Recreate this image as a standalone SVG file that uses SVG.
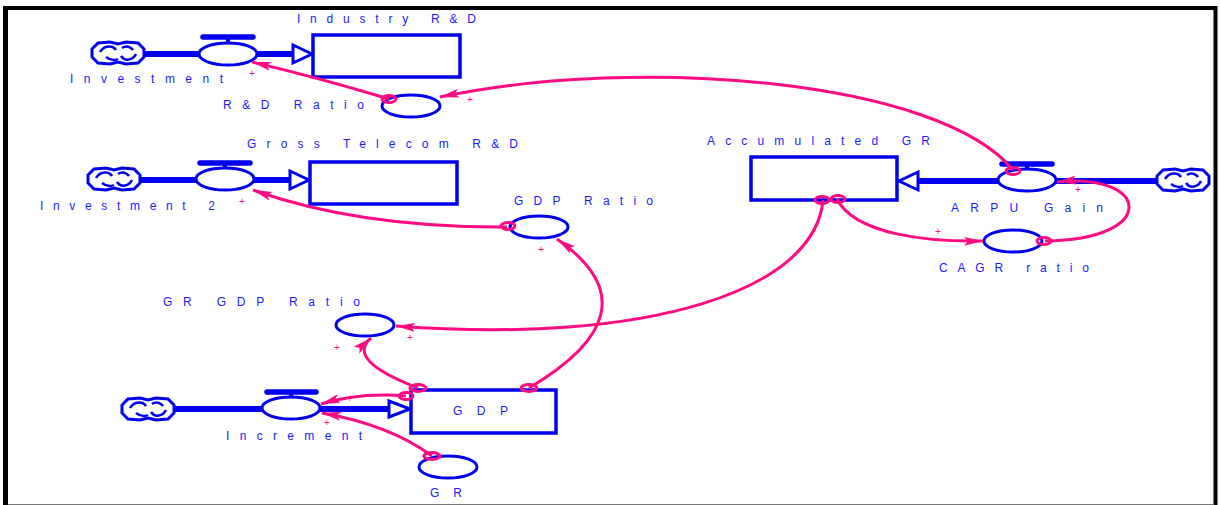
<svg xmlns="http://www.w3.org/2000/svg" xmlns:xlink="http://www.w3.org/1999/xlink" width="1220" height="505" viewBox="0 0 1220 505">
<style>
.lbl{font-family:"Liberation Sans",Arial,sans-serif;font-size:12px;fill:#1a1aff}
.plus{font-family:"Liberation Sans",Arial,sans-serif;font-size:10px;fill:#ff1080;text-anchor:middle}
.stock{fill:#fff;stroke:#0000ee;stroke-width:3.5}
.aux{fill:#fff;stroke:#0000ee;stroke-width:3}
.pipe{stroke:#0000ee;stroke-width:6;fill:none}
.bar{stroke:#0000ee;stroke-width:5.5;stroke-linecap:round}
.stem{stroke:#0000ee;stroke-width:4}
.tri{fill:#fff;stroke:#0000ee;stroke-width:3;stroke-linejoin:miter}
.link{fill:none;stroke:#ff0a80;stroke-width:3;marker-end:url(#ah)}
.src{fill:none;stroke:#ff0a80;stroke-width:3}
</style>
<defs>
<marker id="ah" markerUnits="userSpaceOnUse" markerWidth="22" markerHeight="12" refX="19" refY="6" orient="auto">
<path d="M0,1.5 L19,6 L0,10.5 L4,6 Z" fill="#ff0a80"/>
</marker>
<g id="cloud">
<path d="M-20,-10 L-8,-11 L0,-9 L8,-11 L20,-10 L26,-4 L26,4 L20,10 L8,11 L0,9 L-8,11 L-20,10 L-26,4 L-26,-4 Z" fill="#fff" stroke="#0000ee" stroke-width="3"/>
<path d="M-18,-1 C-14,-8 -5,-8 -2,-3 M3,3 C7,9 15,7 18,1 M-12,4 C-7,8 -2,7 0,6 M4,-5 C8,-8 13,-6 15,-3" fill="none" stroke="#0000ee" stroke-width="2.5"/>
</g>
</defs>
<rect x="0" y="0" width="1220" height="505" fill="#fff"/>
<g id="frame">
<line x1="3" y1="8" x2="1217" y2="8" stroke="#000" stroke-width="4"/>
<line x1="5.5" y1="6" x2="5.5" y2="505" stroke="#000" stroke-width="5"/>
<line x1="1215.5" y1="6" x2="1215.5" y2="505" stroke="#000" stroke-width="4"/>
<line x1="8" y1="504.5" x2="1214" y2="504.5" stroke="#777" stroke-width="1"/>
</g>

<g id="flow-investment">
<line class="pipe" x1="144" y1="54" x2="294" y2="54"/>
<use xlink:href="#cloud" x="118" y="53"/>
<line class="stem" x1="228" y1="38" x2="228" y2="44"/>
<line class="bar" x1="203" y1="37" x2="253" y2="37"/>
<ellipse class="aux" cx="228" cy="54" rx="29" ry="11"/>
<polygon class="tri" points="293,45 312,54 293,63"/>
<text class="lbl" x="70" y="83" textLength="153" lengthAdjust="spacing">Investment</text>
</g>
<g id="stock-industry-rd">
<rect class="stock" x="313" y="35" width="147" height="42"/>
<text class="lbl" x="297" y="23" textLength="179" lengthAdjust="spacing">Industry R&amp;D</text>
</g>
<g id="aux-rd-ratio">
<ellipse class="aux" cx="411" cy="106" rx="29" ry="11"/>
<text class="lbl" x="223" y="109" textLength="141" lengthAdjust="spacing">R&amp;D Ratio</text>
</g>

<g id="flow-investment2">
<line class="pipe" x1="140" y1="180" x2="291" y2="180"/>
<use xlink:href="#cloud" x="114" y="179"/>
<line class="stem" x1="225" y1="163" x2="225" y2="169"/>
<line class="bar" x1="200" y1="163" x2="250" y2="163"/>
<ellipse class="aux" cx="225" cy="179" rx="29" ry="11"/>
<polygon class="tri" points="290,171 309,180 290,189"/>
<text class="lbl" x="40" y="210" textLength="175" lengthAdjust="spacing">Investment 2</text>
</g>
<g id="stock-gross-telecom-rd">
<rect class="stock" x="310" y="162" width="147" height="42"/>
<text class="lbl" x="247" y="148" textLength="271" lengthAdjust="spacing">Gross Telecom R&amp;D</text>
</g>
<g id="aux-gdp-ratio">
<ellipse class="aux" cx="539" cy="227" rx="29" ry="11"/>
<text class="lbl" x="514" y="205" textLength="139" lengthAdjust="spacing">GDP Ratio</text>
</g>

<g id="stock-accumulated-gr">
<rect class="stock" x="751" y="157" width="146" height="43"/>
<text class="lbl" x="707" y="145" textLength="223" lengthAdjust="spacing">Accumulated GR</text>
</g>
<g id="flow-arpu-gain">
<line class="pipe" x1="916" y1="181" x2="1158" y2="181"/>
<use xlink:href="#cloud" x="1183" y="180"/>
<line class="stem" x1="1027" y1="164" x2="1027" y2="170"/>
<line class="bar" x1="1002" y1="164" x2="1052" y2="164"/>
<ellipse class="aux" cx="1027" cy="180" rx="29" ry="11"/>
<polygon class="tri" points="918,172 899,181 918,190"/>
<text class="lbl" x="951" y="212" textLength="152" lengthAdjust="spacing">ARPU Gain</text>
</g>
<g id="aux-cagr-ratio">
<ellipse class="aux" cx="1013" cy="241" rx="29" ry="11"/>
<text class="lbl" x="939" y="272" textLength="150" lengthAdjust="spacing">CAGR ratio</text>
</g>

<g id="aux-gr-gdp-ratio">
<ellipse class="aux" cx="365" cy="325" rx="29" ry="11"/>
<text class="lbl" x="163" y="306" textLength="197" lengthAdjust="spacing">GR GDP Ratio</text>
</g>
<g id="flow-increment">
<line class="pipe" x1="175" y1="409" x2="390" y2="409"/>
<use xlink:href="#cloud" x="148" y="409"/>
<line class="stem" x1="291" y1="392" x2="291" y2="398"/>
<line class="bar" x1="267" y1="392" x2="316" y2="392"/>
<ellipse class="aux" cx="291" cy="408" rx="29" ry="11"/>
<polygon class="tri" points="389,401 410,409 389,417"/>
<text class="lbl" x="226" y="440" textLength="136" lengthAdjust="spacing">Increment</text>
</g>
<g id="stock-gdp">
<rect class="stock" x="411" y="390" width="145" height="43"/>
<text class="lbl" x="453" y="415" textLength="55" lengthAdjust="spacing">GDP</text>
</g>
<g id="aux-gr">
<ellipse class="aux" cx="448" cy="467" rx="29" ry="11"/>
<text class="lbl" x="430" y="497" textLength="32" lengthAdjust="spacing">GR</text>
</g>

<g id="connectors">
<path class="link" d="M389,99 Q320,78 252,62"/>
<path class="link" d="M1013,170 C940,80 640,55 440,97"/>
<path class="link" d="M507,227 Q360,228 253,190"/>
<path class="link" d="M837,199 C855,235 930,242 983,241"/>
<path class="link" d="M1045,241 C1160,240 1150,172 1057,182"/>
<path class="link" d="M823,200 C815,290 650,345 396,326"/>
<path class="link" d="M418,388 Q345,360 371,338"/>
<path class="link" d="M529,388 C610,340 630,290 557,239"/>
<path class="link" d="M406,396 Q360,392 321,404"/>
<path class="link" d="M432,456 Q390,425 322,413"/>
<ellipse class="src" cx="389" cy="99" rx="7" ry="3.5"/>
<ellipse class="src" cx="1013" cy="171" rx="7" ry="3.5"/>
<ellipse class="src" cx="508" cy="226" rx="7" ry="3.5"/>
<ellipse class="src" cx="822" cy="200" rx="7" ry="3.5"/>
<ellipse class="src" cx="838" cy="199" rx="7" ry="3.5"/>
<ellipse class="src" cx="1044" cy="241" rx="7" ry="3.5"/>
<ellipse class="src" cx="418" cy="388" rx="8" ry="3.5"/>
<ellipse class="src" cx="529" cy="388" rx="8" ry="3.5"/>
<ellipse class="src" cx="406" cy="396" rx="7" ry="3.5"/>
<ellipse class="src" cx="432" cy="456" rx="8" ry="3.5"/>
<text class="plus" x="252" y="77">+</text>
<text class="plus" x="470" y="103">+</text>
<text class="plus" x="242" y="205">+</text>
<text class="plus" x="541" y="253">+</text>
<text class="plus" x="938" y="235">+</text>
<text class="plus" x="1078" y="193">+</text>
<text class="plus" x="410" y="341">+</text>
<text class="plus" x="337" y="351">+</text>
<text class="plus" x="350" y="402">+</text>
<text class="plus" x="327" y="426">+</text>
</g>
</svg>
